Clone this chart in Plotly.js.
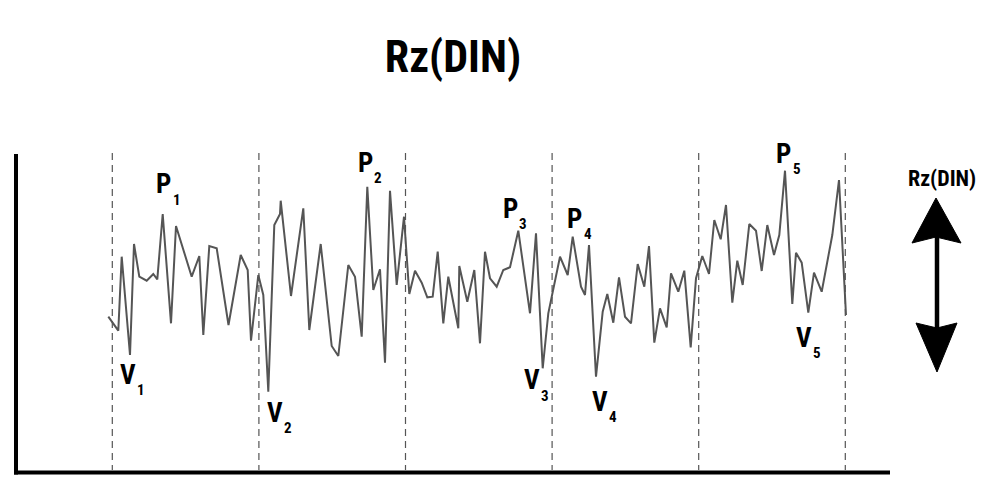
<!DOCTYPE html>
<html><head><meta charset="utf-8">
<script src="https://cdn.plot.ly/plotly-3.0.1.min.js"></script>
<style>html,body{margin:0;padding:0;background:#fff}#chart{width:1000px;height:503px}</style>
</head><body><div id="chart"></div>
<script>
// Roughness profile: position along the trace and profile height
const profileX = [108.3,118.3,121.7,130,134,139.3,146.7,153.3,157.3,162.7,171,176,191.7,199.3,203.3,209.3,216.7,228.5,240.7,247.7,251,258.3,263.3,268.3,274.3,280,280.7,291,303.3,309.3,320.7,331.7,338.3,348.3,355,361.7,367.3,373.3,380,385,390,396.7,404,409.3,415,421.7,427.3,432.7,437.7,443.3,448.3,458.3,459.3,467.3,474.3,480,485,490,496.7,503.3,510,518.3,530,536,542.7,548.3,560,567.7,572.7,581,585,589,596,602.7,607.3,613.3,619,625,631,637.7,644.3,649,654.3,660,666.7,671,678.3,684.3,690.7,696,702.3,709,714.3,720.7,726,732.3,737.3,742.7,749.3,756,761.7,767.3,774,779.3,785,792.3,796,801.7,808.3,814,821.7,832.3,839,846];
const profileH = [-16.7,-30.7,43.3,-55,56,23.3,19.3,26,20.7,86,-23.3,74,23.3,44,-35,54,51.7,-25,45,30,-40.7,25,5,-91.7,75,86,99.3,4,91.7,-30,56,-46,-56,35,23.3,-36.7,113.3,10,30.7,-62.7,109.3,15,83.3,6,29.3,17.3,2.7,3.3,48.3,-23.3,23.3,-28.3,34,-1.7,30,-43.3,48.3,21.7,13.3,30,32.7,69.3,-13.3,66.7,-68.3,-13.3,43.3,25,63.3,13.3,5,55,-76.7,-11.7,6,-22.7,22.7,-16.7,-23.3,36,13.3,54,-42.7,-8.3,-27.3,26.7,8.3,29.3,-47.3,21.7,44,26,80,60.7,95,-2.7,39.3,15,76,69.3,29,75,45,65,129.3,-4,47.3,37.3,-12.7,27.3,8.3,65,120,-15];
// Boundaries of the five sampling lengths
const samplingBounds = [112.3,258.9,405.5,552.1,698.7,845.3];
const boundTop = 147;
const boundBottom = -170;
const peakLetter = 'P';
const valleyLetter = 'V';
const titleText = 'Rz(DIN)';
const arrowText = 'Rz(DIN)';

const FONT = '"Liberation Sans Narrow","Roboto Condensed","DejaVu Sans Condensed","Arial Narrow",sans-serif';

// label pixel shifts (layout only)
const peakShift = [[1,-30],[-2,-24],[-8,-22],[2,-18],[-1.5,-17]];
const valleyShift = [[-2.5,19.5],[7,21],[-11,12],[4,25],[-4,25]];
const subShift = [13,15.5];

const traces = [];
samplingBounds.forEach(b => {
  traces.push({x:[b,b], y:[boundTop,boundBottom], mode:'lines', hoverinfo:'skip',
    line:{color:'#555', width:1.2, dash:'7px,5px'}, showlegend:false});
});
traces.push({x:profileX, y:profileH, mode:'lines', line:{color:'#555', width:2}, showlegend:false, hoverinfo:'skip'});

const annotations = [];
function addLabel(letter, idx, px, py, shift){
  annotations.push({x:px, y:py, xref:'x', yref:'y', text:letter, showarrow:false,
    xanchor:'center', yanchor:'middle', xshift:shift[0], yshift:-shift[1],
    font:{family:FONT, size:27, weight:700, color:'#000'}});
  annotations.push({x:px, y:py, xref:'x', yref:'y', text:String(idx), showarrow:false,
    xanchor:'center', yanchor:'middle', xshift:shift[0]+subShift[0], yshift:-(shift[1]+subShift[1]),
    font:{family:FONT, size:15, weight:700, color:'#000'}});
}
for (let k = 0; k < samplingBounds.length - 1; k++) {
  let maxI = -1, minI = -1;
  for (let i = 0; i < profileX.length; i++) {
    if (profileX[i] >= samplingBounds[k] && profileX[i] < samplingBounds[k+1]) {
      if (maxI < 0 || profileH[i] > profileH[maxI]) maxI = i;
      if (minI < 0 || profileH[i] < profileH[minI]) minI = i;
    }
  }
  addLabel(peakLetter, k+1, profileX[maxI], profileH[maxI], peakShift[k]);
  addLabel(valleyLetter, k+1, profileX[minI], profileH[minI], valleyShift[k]);
}
annotations.push({x:942, y:122, xref:'x', yref:'y', text:arrowText, showarrow:false,
  xanchor:'center', yanchor:'middle', font:{family:FONT, size:22, weight:700, color:'#000'}});

const shapes = [
  {type:'line', xref:'x', yref:'y', x0:16, x1:16, y0:146, y1:-174.5, line:{color:'#000', width:4}},
  {type:'line', xref:'x', yref:'y', x0:14, x1:890, y0:-172.5, y1:-172.5, line:{color:'#000', width:4}},
  {type:'path', xref:'x', yref:'y', path:'M936,102 L961,57 L936,63 L912,57 Z', fillcolor:'#000', line:{color:'#000', width:1}},
  {type:'path', xref:'x', yref:'y', path:'M937,-72 L957,-23 L937,-28 L916,-23 Z', fillcolor:'#000', line:{color:'#000', width:1}},
  {type:'line', xref:'x', yref:'y', x0:937, x1:937, y0:64, y1:-29, line:{color:'#000', width:4.5}}
];

const layout = {
  width:1000, height:503, margin:{l:0,r:0,t:0,b:0},
  paper_bgcolor:'#fff', plot_bgcolor:'#fff',
  xaxis:{range:[0,1000], visible:false, fixedrange:true},
  yaxis:{range:[-203,300], visible:false, fixedrange:true},
  title:{text:titleText, font:{family:FONT, size:44, weight:700, color:'#000'},
    x:0.453, xanchor:'center', xref:'container', y:1-57/503, yanchor:'middle', yref:'container'},
  annotations, shapes, showlegend:false
};
Plotly.newPlot('chart', traces, layout, {displayModeBar:false, staticPlot:true});
</script></body></html>
